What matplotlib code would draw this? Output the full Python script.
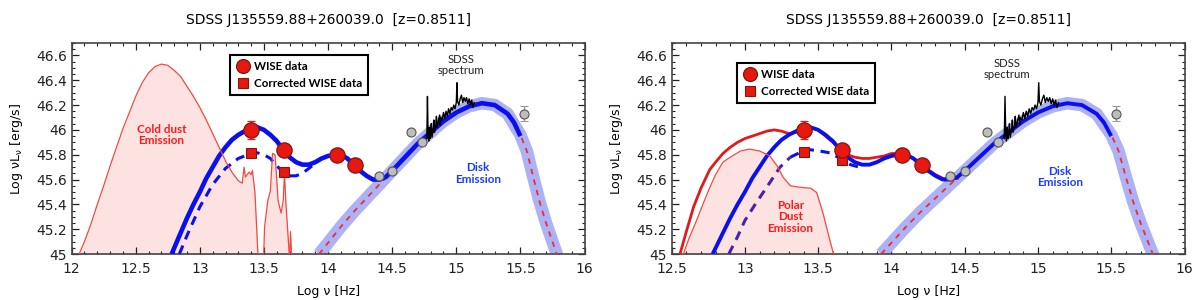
import numpy as np
import matplotlib.pyplot as plt
from matplotlib.lines import Line2D
from matplotlib.ticker import MultipleLocator

# ---- data ----
title = 'SDSS J135559.88+260039.0  [z=0.8511]'

wise_x = [13.40, 13.66, 14.07, 14.21]
wise_y = [46.00, 45.84, 45.80, 45.72]
wise_err = [0.07, 0.0, 0.0, 0.0]

corr_x = [13.40, 13.66]
corr_y_left = [45.81, 45.66]
corr_y_right = [45.82, 45.76]

phot_x = [14.40, 14.50, 14.65, 14.73, 15.53]
phot_y = [45.63, 45.67, 45.98, 45.90, 46.13]
phot_err = [0.0, 0.0, 0.0, 0.0, 0.06]

spec_x = [14.770, 14.775, 14.780, 14.785, 14.79, 14.795, 14.80, 14.805, 14.81, 14.82,
          14.825, 14.83, 14.84, 14.845, 14.85, 14.86, 14.87, 14.875, 14.88, 14.89,
          14.90, 14.91, 14.92, 14.93, 14.94, 14.95, 14.96, 14.97, 14.98, 14.99,
          15.00, 15.005, 15.01, 15.02, 15.03, 15.04, 15.05, 15.06, 15.07, 15.08,
          15.09, 15.10, 15.11, 15.12, 15.13, 15.14]
spec_y = [45.93, 46.27, 45.95, 45.91, 46.02, 45.93, 45.97, 46.05, 45.94, 46.00,
          46.08, 45.98, 46.03, 46.11, 46.02, 46.07, 46.12, 46.04, 46.10, 46.08,
          46.14, 46.09, 46.15, 46.11, 46.17, 46.13, 46.18, 46.16, 46.20, 46.17,
          46.22, 46.38, 46.23, 46.20, 46.25, 46.28, 46.22, 46.26, 46.23, 46.26,
          46.21, 46.25, 46.20, 46.24, 46.18, 46.22]

disk_x = [13.93, 14.0, 14.1, 14.2, 14.3, 14.4, 14.5, 14.6, 14.7, 14.8, 14.9, 15.0,
          15.1, 15.2, 15.3, 15.4, 15.5, 15.55, 15.6, 15.65, 15.7, 15.75, 15.8, 15.82]
disk_y = [45.0, 45.09, 45.22, 45.34, 45.45, 45.56, 45.67, 45.78, 45.89, 45.98, 46.07, 46.14,
          46.19, 46.215, 46.20, 46.13, 45.96, 45.83, 45.62, 45.42, 45.25, 45.10, 44.95, 44.88]

tot_x = [12.78, 12.85, 12.9, 12.95, 13.0, 13.05, 13.1, 13.15, 13.2, 13.25, 13.3, 13.35,
         13.4, 13.45, 13.5, 13.55, 13.6, 13.65, 13.7, 13.75, 13.8, 13.85, 13.9, 13.95,
         14.0, 14.05, 14.1, 14.15, 14.2, 14.25, 14.3, 14.35, 14.4, 14.45, 14.5, 14.6,
         14.7, 14.8, 14.9, 15.0, 15.1, 15.2, 15.3, 15.4, 15.45, 15.5]
tot_y = [45.0, 45.17, 45.29, 45.40, 45.50, 45.61, 45.70, 45.79, 45.86, 45.92, 45.96, 45.99,
         46.01, 46.02, 46.0, 45.96, 45.91, 45.84, 45.78, 45.74, 45.72, 45.72, 45.74, 45.77,
         45.79, 45.80, 45.80, 45.77, 45.72, 45.67, 45.63, 45.60, 45.60, 45.62, 45.67, 45.78,
         45.89, 45.98, 46.07, 46.14, 46.19, 46.215, 46.20, 46.13, 46.06, 45.95]

# corrected torus (dashed), left and right panels
ldash_x = [12.84, 12.9, 13.0, 13.1, 13.2, 13.3, 13.4, 13.45, 13.5, 13.55, 13.6, 13.65,
           13.7, 13.75, 13.8, 13.85, 13.9]
ldash_y = [45.0, 45.15, 45.38, 45.56, 45.69, 45.77, 45.81, 45.815, 45.80, 45.77, 45.71, 45.66,
           45.63, 45.63, 45.65, 45.69, 45.73]
rdash_x = [12.89, 12.95, 13.0, 13.07, 13.15, 13.24, 13.31, 13.38, 13.445, 13.51, 13.58,
           13.65, 13.72, 13.78]
rdash_y = [45.0, 45.14, 45.27, 45.40, 45.54, 45.70, 45.78, 45.82, 45.84, 45.83, 45.815,
           45.77, 45.72, 45.70]

cold_x = [12.05, 12.10, 12.15, 12.20, 12.25, 12.30, 12.35, 12.40, 12.45, 12.50, 12.55,
          12.60, 12.65, 12.70, 12.75, 12.80, 12.85, 12.90, 12.95, 13.00, 13.05, 13.10,
          13.15, 13.20, 13.25, 13.30, 13.33, 13.345, 13.355, 13.37, 13.385, 13.40, 13.41,
          13.43, 13.45, 13.46, 13.495, 13.505, 13.53, 13.55, 13.567, 13.586, 13.60, 13.61,
          13.634, 13.65, 13.66, 13.67, 13.69, 13.70, 13.707, 13.72]
cold_y = [44.98, 45.10, 45.24, 45.40, 45.55, 45.71, 45.86, 46.01, 46.14, 46.27, 46.38,
          46.46, 46.51, 46.53, 46.52, 46.48, 46.43, 46.35, 46.27, 46.18, 46.08, 45.97,
          45.86, 45.75, 45.66, 45.59, 45.57, 45.70, 45.62, 45.64, 45.66, 45.64, 45.675,
          45.49, 45.06, 44.90, 44.90, 45.22, 45.43, 45.51, 45.81, 45.80, 45.60, 45.43,
          45.33, 45.43, 45.65, 45.43, 45.11, 44.95, 45.18, 44.90]

polar_x = [12.58, 12.62, 12.67, 12.72, 12.76, 12.80, 12.85, 12.90, 12.97, 13.03, 13.10,
           13.17, 13.22, 13.26, 13.31, 13.36, 13.40, 13.45, 13.49, 13.535, 13.58, 13.605]
polar_y = [45.0, 45.13, 45.27, 45.42, 45.535, 45.64, 45.74, 45.78, 45.83, 45.845, 45.83,
           45.79, 45.71, 45.62, 45.55, 45.54, 45.535, 45.53, 45.495, 45.32, 45.11, 45.0]

red_x = [12.557, 12.6, 12.65, 12.7, 12.76, 12.8, 12.85, 12.9, 12.95, 13.0, 13.05, 13.1,
         13.15, 13.2, 13.25, 13.3, 13.35, 13.4, 13.45, 13.5, 13.55, 13.6, 13.65, 13.7,
         13.75, 13.8, 13.85, 13.9, 13.95, 14.0, 14.05, 14.1, 14.15, 14.2, 14.25, 14.3,
         14.35, 14.4, 14.45]
red_y = [45.0, 45.18, 45.38, 45.53, 45.68, 45.74, 45.81, 45.86, 45.90, 45.93, 45.95, 45.97,
         45.99, 46.0, 45.99, 45.97, 45.98, 46.01, 46.02, 46.0, 45.95, 45.90, 45.85, 45.80,
         45.78, 45.77, 45.77, 45.78, 45.79, 45.81, 45.81, 45.80, 45.77, 45.73, 45.68, 45.64,
         45.61, 45.60, 45.61]

BLUE = '#0a0ff0'
RED = '#e8170f'
PINK = '#fde2e2'
THINRED = '#f04a42'
BAND = '#aeb1f4'
NOTE = 'Lato'

fig = plt.figure(figsize=(12, 3), dpi=100)
axL = fig.add_axes([0.0597, 0.1533, 0.4274, 0.7033])
axR = fig.add_axes([0.5597, 0.1533, 0.4274, 0.7033])


def common(ax, xmin):
    ax.set_xlim(xmin, 16)
    ax.set_ylim(45, 46.7)
    ax.xaxis.set_major_locator(MultipleLocator(0.5))
    ax.xaxis.set_minor_locator(MultipleLocator(0.1))
    ax.yaxis.set_minor_locator(MultipleLocator(0.05))
    ax.set_yticks([45, 45.2, 45.4, 45.6, 45.8, 46, 46.2, 46.4, 46.6])
    ax.set_yticklabels(['45', '45.2', '45.4', '45.6', '45.8', '46', '46.2', '46.4', '46.6'])
    ax.xaxis.set_major_formatter(plt.FuncFormatter(lambda v, p: ('%g' % v)))
    ax.tick_params(which='both', direction='in', top=True, right=True, labelsize=10,
                   colors='#222222')
    ax.tick_params(axis='x', pad=6)
    ax.tick_params(which='major', length=5, width=0.9)
    ax.tick_params(which='minor', length=2.5, width=0.8)
    for s in ax.spines.values():
        s.set_linewidth(1.2)
        s.set_color('#444444')
    ax.set_xlabel('Log ν [Hz]', fontsize=9, labelpad=6)
    ax.set_ylabel('Log νL$_{\\mathregular{ν}}$ [erg/s]', fontsize=9, labelpad=8)
    ax.set_title(title, fontsize=10, pad=14)

    # disk emission: band + dashed red model
    ax.plot(disk_x, disk_y, color=BAND, lw=9, solid_capstyle='butt', zorder=2)
    ax.plot(disk_x, disk_y, color='#e83030', lw=1.3, ls=(0, (3, 3)), zorder=3)
    # SDSS spectrum
    ax.plot(spec_x, spec_y, color='black', lw=1.0, zorder=6)
    # photometry
    ax.errorbar(phot_x, phot_y, yerr=phot_err, fmt='o', ms=6.5, mfc='#bdbdbd',
                mec='#555555', mew=0.8, ecolor='#999999', elinewidth=1, capsize=3, zorder=8)
    ax.errorbar(wise_x, wise_y, yerr=wise_err, fmt='o', ms=11, mfc=RED,
                mec='#7a1a10', mew=0.9, ecolor=RED, elinewidth=1, capsize=3, zorder=9)


common(axL, 12)
common(axR, 12.5)

# ---- left panel ----
axL.fill_between(cold_x, cold_y, 44.8, color=PINK, lw=0, zorder=1)
axL.plot(tot_x, tot_y, color=BLUE, lw=3.3, solid_capstyle='butt', zorder=4)
axL.plot(ldash_x, ldash_y, color=BLUE, lw=2.2, ls=(0, (3, 2.2)), zorder=4)
axL.plot(cold_x, cold_y, color=THINRED, lw=0.9, zorder=5)
axL.plot(corr_x, corr_y_left, 's', ms=7, mfc=RED, mec='#7a1a10', mew=0.8, zorder=9)

axL.text(12.70, 45.96, 'Cold dust\nEmission', color='#ff1a1a', fontsize=8.4,
         fontweight='bold', family=NOTE, ha='center', va='center', linespacing=1.05)
axL.text(15.17, 45.65, 'Disk\nEmission', color='#1a3cff', fontsize=8.4,
         fontweight='bold', family=NOTE, ha='center', va='center', linespacing=1.05)
axL.text(15.04, 46.52, 'SDSS\nspectrum', color='#222222', fontsize=8.2,
         family=NOTE, ha='center', va='center', linespacing=1.0)

# ---- right panel ----
axR.fill_between(polar_x, polar_y, 44.8, color=PINK, lw=0, zorder=1)
axR.plot(polar_x, polar_y, color=THINRED, lw=0.9, zorder=5)
axR.plot(red_x, red_y, color='#e21a1a', lw=2.0, zorder=4)
axR.plot(tot_x, tot_y, color=BLUE, lw=2.8, solid_capstyle='butt', zorder=4.5)
axR.plot(rdash_x[:7], rdash_y[:7], color='#4a22a8', lw=2.2, ls=(0, (3, 2.2)), zorder=4)
axR.plot(rdash_x[6:], rdash_y[6:], color=BLUE, lw=2.2, ls=(0, (3, 2.2)), zorder=4)
axR.plot(corr_x, corr_y_right, 's', ms=7, mfc=RED, mec='#7a1a10', mew=0.8, zorder=9)

axR.text(13.31, 45.30, 'Polar\nDust\nEmission', color='#ff1a1a', fontsize=8.4,
         fontweight='bold', family=NOTE, ha='center', va='center', linespacing=1.05)
axR.text(15.15, 45.62, 'Disk\nEmission', color='#1a3cff', fontsize=8.4,
         fontweight='bold', family=NOTE, ha='center', va='center', linespacing=1.05)
axR.text(14.79, 46.49, 'SDSS\nspectrum', color='#222222', fontsize=8.2,
         family=NOTE, ha='center', va='center', linespacing=1.0)

# legends
handles = [Line2D([], [], ls='none', marker='o', ms=10, mfc=RED, mec='#7a1a10', mew=0.9),
           Line2D([], [], ls='none', marker='s', ms=6.5, mfc=RED, mec='#7a1a10', mew=0.8)]
labels = ['WISE data', 'Corrected WISE data']
for ax, anchor in [(axL, (0.309, 0.943)), (axR, (0.128, 0.905))]:
    leg = ax.legend(handles, labels, loc='upper left', bbox_to_anchor=anchor,
                    prop={'family': NOTE, 'weight': 'bold', 'size': 8.3},
                    fancybox=False, framealpha=1, edgecolor='black',
                    handletextpad=0.35, borderpad=0.5, labelspacing=0.55,
                    handlelength=1.2, borderaxespad=0)
    leg.get_frame().set_linewidth(1.5)
    leg.set_zorder(10)

plt.savefig('out.png', dpi=100)
